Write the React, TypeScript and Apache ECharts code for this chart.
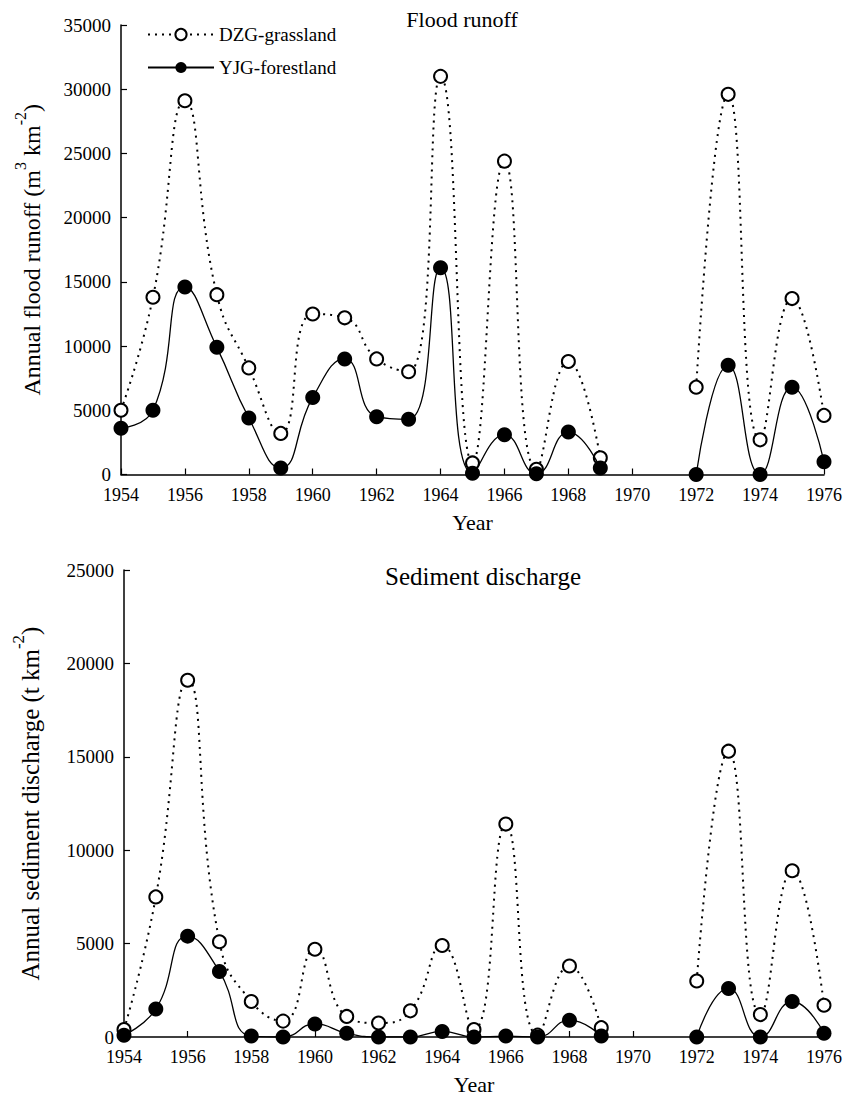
import React, { useEffect, useRef } from "react";
import * as echarts from "echarts";

// Observation years; 1970 and 1971 have no records (gap in both series).
const years = [1954, 1955, 1956, 1957, 1958, 1959, 1960, 1961, 1962, 1963, 1964, 1965, 1966, 1967, 1968, 1969, 1970, 1971, 1972, 1973, 1974, 1975, 1976];

// Annual flood runoff (m3 km-2)
const dzgRunoff = [5000, 13800, 29100, 14000, 8300, 3200, 12500, 12200, 9000, 8000, 31000, 900, 24400, 400, 8800, 1300, null, null, 6800, 29600, 2700, 13700, 4600];
const yjgRunoff = [3600, 5000, 14600, 9900, 4400, 500, 6000, 9000, 4500, 4300, 16100, 100, 3100, 50, 3300, 500, null, null, 0, 8500, 0, 6800, 1000];

// Annual sediment discharge (t km-2)
const dzgSediment = [400, 7500, 19100, 5100, 1900, 850, 4700, 1100, 750, 1400, 4900, 400, 11400, 100, 3800, 500, null, null, 3000, 15300, 1200, 8900, 1700];
const yjgSediment = [100, 1500, 5400, 3500, 50, 0, 700, 200, 0, 0, 300, 0, 50, 0, 900, 50, null, null, 0, 2600, 0, 1900, 200];

const seriesNames = ["DZG-grassland", "YJG-forestland"];
const panelTitles = ["Flood runoff", "Sediment discharge"];

const FONT = "'Liberation Serif', 'Times New Roman', serif";

const toPairs = (vals: (number | null)[]) =>
  years.map((y, i) => [y, vals[i] === null ? "-" : vals[i]]);

const plain = (v: number) => String(v);

export default function App() {
  const ref = useRef<HTMLDivElement>(null);

  useEffect(() => {
    if (!ref.current) return;
    const chart = echarts.init(ref.current, null, { renderer: "svg" });

    const xAxisBase = {
      type: "value",
      min: 1954,
      max: 1976,
      interval: 2,
      name: "Year",
      nameLocation: "middle",
      nameTextStyle: { fontFamily: FONT, fontSize: 22, color: "#000" },
      axisLine: { show: true, onZero: false, lineStyle: { color: "#000", width: 1.5 } },
      axisTick: { show: true, inside: true, length: 6, lineStyle: { color: "#000", width: 1.2 } },
      axisLabel: { fontFamily: FONT, fontSize: 18, color: "#000", margin: 11, formatter: plain },
      splitLine: { show: false },
    };

    const yAxisBase = {
      type: "value",
      min: 0,
      nameLocation: "middle",
      nameRotate: 90,
      axisLine: { show: true, lineStyle: { color: "#000", width: 1.5 } },
      axisTick: { show: true, inside: true, length: 6, lineStyle: { color: "#000", width: 1.2 } },
      axisLabel: { fontFamily: FONT, fontSize: 19, color: "#000", margin: 10, formatter: plain },
      splitLine: { show: false },
    };

    const nameRich = (size: number) => ({
      n: { fontFamily: FONT, fontSize: size, color: "#000", lineHeight: size + 8, verticalAlign: "bottom" },
      s: { fontFamily: FONT, fontSize: Math.round(size * 0.68), color: "#000", lineHeight: size + 8, verticalAlign: "top" },
    });

    const dzgStyle = {
      type: "line",
      smooth: 0.5,
      symbol: "emptyCircle",
      symbolSize: 13,
      connectNulls: false,
      lineStyle: { color: "#000", width: 2, type: [2, 5] },
      itemStyle: { color: "#000", borderWidth: 1.3 },
    };
    const yjgStyle = {
      type: "line",
      smooth: 0.5,
      symbol: "circle",
      symbolSize: 15,
      connectNulls: false,
      lineStyle: { color: "#000", width: 1.3, type: "solid" },
      itemStyle: { color: "#000", borderWidth: 0 },
    };

    chart.setOption({
      animation: false,
      backgroundColor: "#fff",
      title: [
        {
          text: panelTitles[0],
          left: 457,
          top: 3,
          textAlign: "center",
          textStyle: { fontFamily: FONT, fontSize: 22, fontWeight: "normal", color: "#000" },
        },
        {
          text: panelTitles[1],
          left: 478,
          top: 559,
          textAlign: "center",
          textStyle: { fontFamily: FONT, fontSize: 25, fontWeight: "normal", color: "#000" },
        },
      ],
      legend: {
        orient: "vertical",
        left: 142,
        top: 20,
        itemWidth: 66,
        itemHeight: 14,
        itemGap: 14,
        data: seriesNames,
        textStyle: { fontFamily: FONT, fontSize: 19, color: "#000" },
      },
      grid: [
        { left: 121, right: 21, top: 25, height: 449.5 },
        { left: 124, right: 21, top: 570, height: 467 },
      ],
      xAxis: [
        { ...xAxisBase, gridIndex: 0, nameGap: 37 },
        { ...xAxisBase, gridIndex: 1, nameGap: 36 },
      ],
      yAxis: [
        {
          ...yAxisBase,
          gridIndex: 0,
          max: 35000,
          interval: 5000,
          name: "{n|Annual flood runoff (m}{s|3}{n| km}{s|-2}{n|)}",
          nameGap: 77,
          nameTextStyle: { rich: nameRich(24) },
        },
        {
          ...yAxisBase,
          gridIndex: 1,
          max: 25000,
          interval: 5000,
          name: "{n|Annual sediment discharge (t km}{s|-2}{n|)}",
          nameGap: 81,
          nameTextStyle: { rich: nameRich(25) },
        },
      ],
      series: [
        { ...dzgStyle, name: seriesNames[0], xAxisIndex: 0, yAxisIndex: 0, data: toPairs(dzgRunoff), z: 2 },
        { ...yjgStyle, name: seriesNames[1], xAxisIndex: 0, yAxisIndex: 0, data: toPairs(yjgRunoff), z: 3 },
        { ...dzgStyle, name: seriesNames[0], xAxisIndex: 1, yAxisIndex: 1, data: toPairs(dzgSediment), z: 2 },
        { ...yjgStyle, name: seriesNames[1], xAxisIndex: 1, yAxisIndex: 1, data: toPairs(yjgSediment), z: 3 },
      ],
    });

    return () => chart.dispose();
  }, []);

  return (
    <div
      ref={ref}
      style={{ position: "fixed", left: 0, top: 0, width: 845, height: 1097, background: "#fff" }}
    />
  );
}
